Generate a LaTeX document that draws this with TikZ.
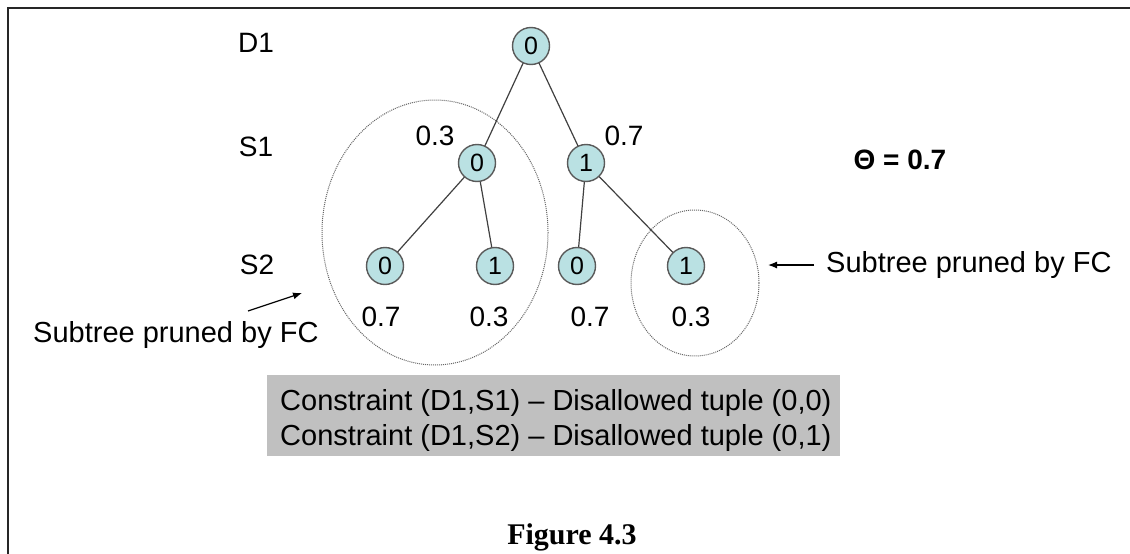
\documentclass[tikz,border=0pt]{standalone}
\usepackage{fontspec}
\setmainfont{Liberation Sans}
\newfontfamily\capfont{Liberation Serif}
\usetikzlibrary{arrows.meta}
\definecolor{nodefill}{RGB}{186,225,227}
\definecolor{nodeedge}{RGB}{90,90,90}
\definecolor{boxgray}{RGB}{192,192,192}
\tikzset{
  tnode/.style={circle, draw=nodeedge, line width=1.4pt, fill=nodefill, minimum size=37pt, inner sep=0pt, font=\fontsize{25}{30}\selectfont},
  edge/.style={draw=black!75, line width=1.2pt},
  lbl/.style={inner sep=0pt, font=\fontsize{28}{34}\selectfont},
  bigtxt/.style={inner sep=0pt, font=\fontsize{29}{35}\selectfont},
  prune/.style={draw=black!60, line width=1pt, dash pattern=on 1pt off 1pt},
  ptr/.style={draw=black, line width=1.2pt, -{Latex[length=9pt,width=7pt]}}
}
\begin{document}
\begin{tikzpicture}[x=1pt,y=-1pt]
\useasboundingbox (0,0) rectangle (1130,554);
% frame
\draw[line width=2.5pt, black!85] (8,554) -- (8,8) -- (1130,8);
% level labels
\node[lbl] (D1) at (256,43) {D1};
\node[lbl] (S1) at (256,147) {S1};
\node[lbl] (S2) at (257,265) {S2};
% pruned regions
\draw[prune] (435,232.5) ellipse [x radius=113, y radius=132.5];
\draw[prune] (695,283) ellipse [x radius=64, y radius=73];
% edges first (behind nodes)
\coordinate (pr) at (531,46);
\coordinate (pa) at (477,163);
\coordinate (pb) at (586,163);
\coordinate (pc) at (385,266);
\coordinate (pd) at (495,266);
\coordinate (pe) at (577,266);
\coordinate (pf) at (686,266);
\draw[edge] (pr) -- (pa);
\draw[edge] (pr) -- (pb);
\draw[edge] (pa) -- (pc);
\draw[edge] (pa) -- (pd);
\draw[edge] (pb) -- (pe);
\draw[edge] (pb) -- (pf);
% tree nodes
\node[tnode] (r) at (pr) {0};
\node[tnode] (a) at (pa) {0};
\node[tnode] (b) at (pb) {1};
\node[tnode] (c) at (pc) {0};
\node[tnode] (d) at (pd) {1};
\node[tnode] (e) at (pe) {0};
\node[tnode] (f) at (pf) {1};
% weights
\node[lbl] (wa) at (435,136) {0.3};
\node[lbl] (wb) at (624,136) {0.7};
\node[lbl] (wc) at (381,317) {0.7};
\node[lbl] (wd) at (489,317) {0.3};
\node[lbl] (we) at (590,317) {0.7};
\node[lbl] (wf) at (691,317) {0.3};
% theta
\node[lbl, font=\fontsize{28}{34}\selectfont\bfseries] (theta) at (900,160) {Θ = 0.7};
% pruned annotations
\node[bigtxt, anchor=west] (prR) at (826,265) {Subtree pruned by FC};
\node[bigtxt, anchor=west] (prL) at (33,335) {Subtree pruned by FC};
\coordinate (tailR) at (814,265);
\coordinate (tipR) at (768,265);
\coordinate (tailL) at (248,311);
\coordinate (tipL) at (302,293);
\draw[ptr] (tailR) -- (tipR);
\draw[ptr] (tailL) -- (tipL);
% constraint box
\fill[boxgray] (267,375) rectangle (840,456);
\node[bigtxt, anchor=west] (c1) at (280,403) {Constraint (D1,S1) – Disallowed tuple (0,0)};
\node[bigtxt, anchor=west] (c2) at (280,438) {Constraint (D1,S2) – Disallowed tuple (0,1)};
% caption
\node[inner sep=0pt, font=\capfont\bfseries\fontsize{30}{36}\selectfont] (cap) at (572,537) {Figure 4.3};
\end{tikzpicture}
\end{document}
